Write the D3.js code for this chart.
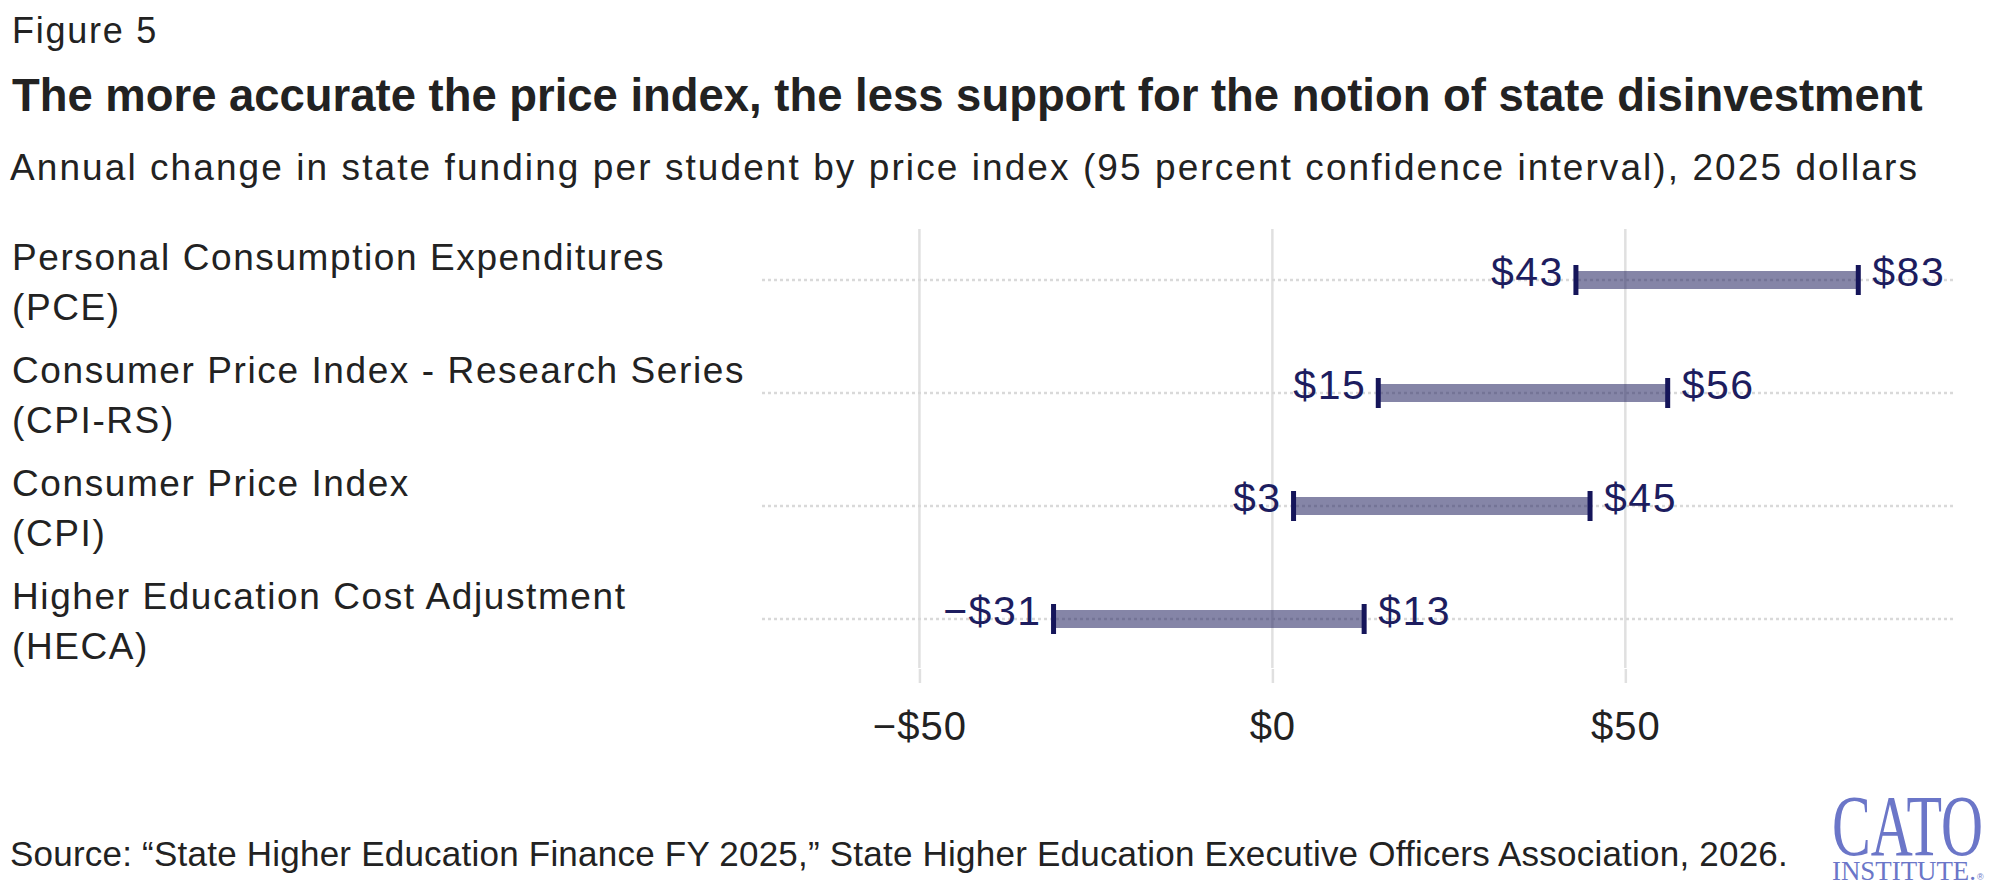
<!DOCTYPE html>
<html>
<head>
<meta charset="utf-8">
<script src="https://cdn.jsdelivr.net/npm/d3@7"></script>
<style>
  html, body { margin: 0; padding: 0; background: #ffffff; }
  svg { display: block; }
  text { font-family: "Liberation Sans", Arial, sans-serif; }
</style>
</head>
<body>
<script>
// ---------- DATA ----------
const categoryNames = [
  "Personal Consumption Expenditures",
  "Consumer Price Index - Research Series",
  "Consumer Price Index",
  "Higher Education Cost Adjustment"
];
const categoryAbbr = ["(PCE)", "(CPI-RS)", "(CPI)", "(HECA)"];
const lowValues  = [43, 15, 3, -31];
const highValues = [83, 56, 45, 13];
const tickValues = [-50, 0, 50];

const figureLabel = "Figure 5";
const titleText = "The more accurate the price index, the less support for the notion of state disinvestment";
const subtitleText = "Annual change in state funding per student by price index (95 percent confidence interval), 2025 dollars";
const sourceText = "Source: \u201cState Higher Education Finance FY 2025,\u201d State Higher Education Executive Officers Association, 2026.";

// ---------- LAYOUT ----------
const W = 1997, H = 896;
const plotLeft = 762, plotRight = 1955;
const rowTop = 280, rowBottom = 619;
const gridTop = 229, gridBottom = 668;
const navy = "#15155a";
const labelNavy = "#1d1d5f";
const textColor = "#222222";

const svg = d3.select("body").append("svg")
  .attr("width", W).attr("height", H);

const x = d3.scaleLinear().domain([-72.3, 96.7]).range([plotLeft, plotRight]);
const y = d3.scalePoint().domain(categoryNames).range([rowTop, rowBottom]);

const fmt = v => (v < 0 ? "\u2212" : "") + "$" + Math.abs(v);

function fitSpacing(node, target) {
  const w = node.getComputedTextLength();
  const n = node.textContent.length;
  return (target - w) / n;
}

// ---------- HEADER ----------
const fig = svg.append("text").attr("x", 12).attr("y", 43)
  .attr("font-size", 36).attr("fill", textColor).text(figureLabel);
fig.attr("letter-spacing", fitSpacing(fig.node(), 146));

const title = svg.append("text").attr("x", 12).attr("y", 111)
  .attr("font-size", 42).attr("font-weight", "bold").attr("fill", textColor).text(titleText);
{
  const w = title.node().getComputedTextLength();
  title.attr("font-size", 42 * 1911 / w);
}

const sub = svg.append("text").attr("x", 10).attr("y", 180)
  .attr("font-size", 37).attr("fill", textColor).text(subtitleText);
sub.attr("letter-spacing", fitSpacing(sub.node(), 1909));

// ---------- GRID ----------
const g = svg.append("g");

g.selectAll("line.vgrid").data(tickValues).join("line")
  .attr("class", "vgrid")
  .attr("x1", d => x(d)).attr("x2", d => x(d))
  .attr("y1", gridTop).attr("y2", gridBottom)
  .attr("stroke", "#e0e0e0").attr("stroke-width", 2.5);

// x axis
const axis = d3.axisBottom(x).tickValues(tickValues).tickFormat(fmt).tickSize(14).tickPadding(22);
const axG = svg.append("g").attr("transform", `translate(0,${gridBottom + 1})`).call(axis);
axG.select(".domain").remove();
axG.selectAll(".tick line").attr("stroke", "#e0e0e0").attr("stroke-width", 2.5);
axG.selectAll(".tick text")
  .attr("font-family", "'Liberation Sans', Arial, sans-serif")
  .attr("font-size", 40).attr("fill", textColor)
  .attr("letter-spacing", 1).attr("dy", null).attr("y", 71);

// dotted row lines
g.selectAll("line.row").data(categoryNames).join("line")
  .attr("class", "row")
  .attr("x1", plotLeft).attr("x2", plotRight)
  .attr("y1", d => y(d)).attr("y2", d => y(d))
  .attr("stroke", "#d9d9d9").attr("stroke-width", 2.5)
  .attr("stroke-dasharray", "3,3");

// row labels
const lab = svg.append("g");
const labTexts = lab.selectAll("text.name").data(categoryNames).join("text")
  .attr("class", "name")
  .attr("x", 12).attr("y", d => y(d) - 10)
  .attr("font-size", 37).attr("fill", textColor).text(d => d);
let longest = 0, longestNode = null;
labTexts.each(function() { const w = this.getComputedTextLength(); if (w > longest) { longest = w; longestNode = this; } });
const rowSpacing = fitSpacing(longestNode, 733);
labTexts.attr("letter-spacing", rowSpacing);
lab.selectAll("text.abbr").data(categoryAbbr).join("text")
  .attr("class", "abbr")
  .attr("x", 12).attr("y", (d, i) => y(categoryNames[i]) + 39.5)
  .attr("font-size", 37).attr("fill", textColor)
  .attr("letter-spacing", rowSpacing).text(d => d);

// ---------- BARS ----------
const rows = categoryNames.map((c, i) => ({ c, lo: lowValues[i], hi: highValues[i] }));
const bars = svg.append("g");
bars.selectAll("rect.bar").data(rows).join("rect")
  .attr("class", "bar")
  .attr("x", d => x(d.lo)).attr("width", d => x(d.hi) - x(d.lo))
  .attr("y", d => y(d.c) - 9).attr("height", 18)
  .attr("fill", "#20205f").attr("fill-opacity", 0.55);

bars.selectAll("rect.tlo").data(rows).join("rect")
  .attr("class", "tlo")
  .attr("x", d => x(d.lo) - 2.5).attr("width", 5)
  .attr("y", d => y(d.c) - 15).attr("height", 30)
  .attr("fill", navy);
bars.selectAll("rect.thi").data(rows).join("rect")
  .attr("class", "thi")
  .attr("x", d => x(d.hi) - 2.5).attr("width", 5)
  .attr("y", d => y(d.c) - 15).attr("height", 30)
  .attr("fill", navy);

bars.selectAll("text.vlo").data(rows).join("text")
  .attr("class", "vlo")
  .attr("x", d => x(d.lo) - 12).attr("y", d => y(d.c) + 6)
  .attr("text-anchor", "end")
  .attr("font-size", 41).attr("fill", labelNavy).attr("letter-spacing", 1.5)
  .text(d => fmt(d.lo));
bars.selectAll("text.vhi").data(rows).join("text")
  .attr("class", "vhi")
  .attr("x", d => x(d.hi) + 14).attr("y", d => y(d.c) + 6)
  .attr("font-size", 41).attr("fill", labelNavy).attr("letter-spacing", 1.5)
  .text(d => fmt(d.hi));

// ---------- FOOTER ----------
const src = svg.append("text").attr("x", 10).attr("y", 866)
  .attr("font-size", 35).attr("fill", textColor).text(sourceText);
src.attr("letter-spacing", fitSpacing(src.node(), 1778));

// logo
const serif = "'Liberation Serif', 'Times New Roman', serif";
const logo = svg.append("g").attr("fill", "#6b76c8");
logo.append("text")
  .attr("transform", "translate(1832,855) scale(1,1.35)")
  .style("font-family", serif)
  .attr("font-size", 64).attr("textLength", 151).attr("lengthAdjust", "spacingAndGlyphs")
  .text("CATO");
logo.append("text").attr("x", 1832).attr("y", 880)
  .style("font-family", serif)
  .attr("font-size", 27).attr("textLength", 144).attr("lengthAdjust", "spacingAndGlyphs")
  .text("INSTITUTE.");
logo.append("text").attr("x", 1977).attr("y", 880)
  .attr("font-size", 9).text("\u00ae");
</script>
</body>
</html>
